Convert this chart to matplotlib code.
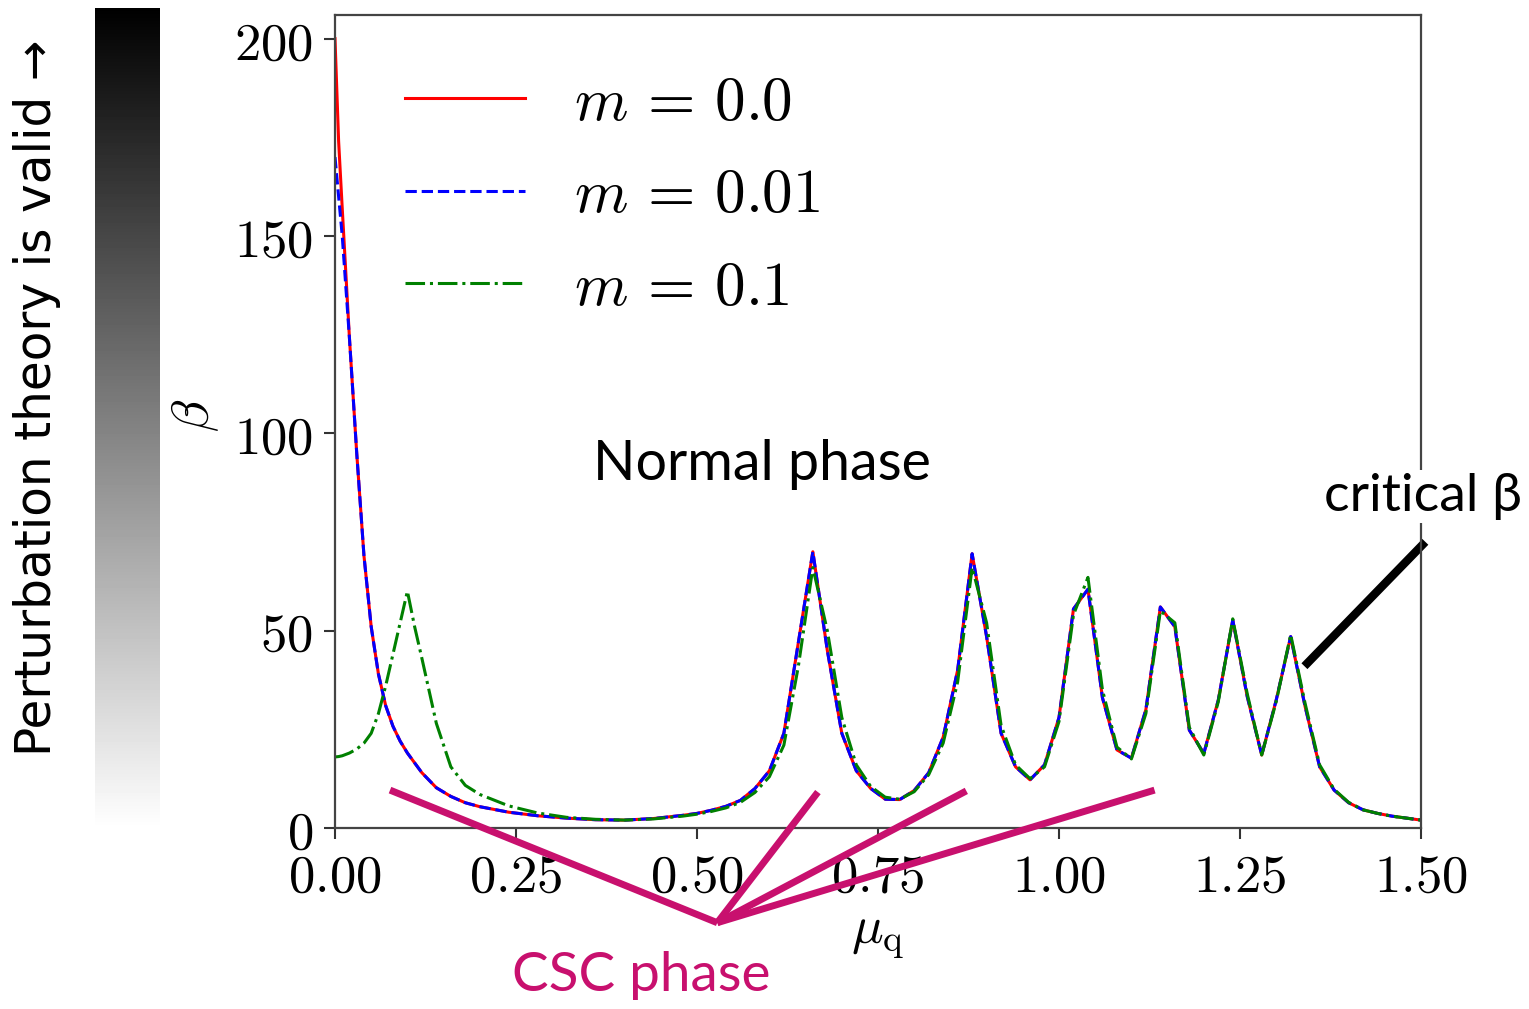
import numpy as np
import matplotlib
matplotlib.use("Agg")
import matplotlib.pyplot as plt

plt.rcParams['mathtext.fontset'] = 'cm'

# mu_q grid and beta values
mu_q = [0, 0.005, 0.01, 0.02, 0.03, 0.04, 0.05, 0.06, 0.07, 0.08, 0.09, 0.10,
        0.11, 0.12, 0.14, 0.16, 0.18, 0.20, 0.24, 0.28, 0.32, 0.36, 0.40, 0.44,
        0.48, 0.50, 0.52, 0.54, 0.56, 0.58, 0.60, 0.62, 0.64, 0.66, 0.68, 0.70,
        0.72, 0.74, 0.76, 0.78, 0.80, 0.82, 0.84, 0.86, 0.88, 0.90, 0.92, 0.94,
        0.96, 0.98, 1.00, 1.02, 1.04, 1.06, 1.08, 1.10, 1.12, 1.14, 1.16, 1.18,
        1.20, 1.22, 1.24, 1.26, 1.28, 1.30, 1.32, 1.34, 1.36, 1.38, 1.40, 1.42,
        1.44, 1.46, 1.48, 1.50]

beta_m0 = [200, 174, 157, 124, 95, 69, 51, 39, 31, 25.8, 22, 19,
           16.5, 14, 10.2, 8, 6.4, 5.4, 4, 3.1, 2.5, 2.1, 2.0, 2.4,
           3.2, 3.7, 4.5, 5.5, 7.0, 10, 14.5, 24, 47, 70, 45, 24,
           14.5, 10, 7.3, 7.2, 9.5, 14, 23, 40, 69.5, 48.5, 24, 15.5,
           12.2, 16, 28, 55.5, 60.5, 33, 19.8, 17.7, 30, 56, 51, 24.8,
           18.9, 32.4, 52.7, 33.3, 18.5, 32.4, 48.5, 30.7, 15.5, 9.6, 6.4, 4.6,
           3.7, 3.0, 2.5, 2.0]

beta_m001 = [170, 160, 150, 124, 95, 69, 51, 39, 31, 25.8, 22, 19,
             16.5, 14, 10.2, 8, 6.4, 5.4, 4, 3.1, 2.5, 2.1, 2.0, 2.4,
             3.2, 3.7, 4.5, 5.5, 7.0, 10, 14.5, 24, 47, 70, 45, 24,
             14.5, 10, 7.3, 7.2, 9.5, 14, 23, 40, 69.5, 48.5, 24, 15.5,
             12.2, 16, 28, 55.5, 60.5, 33, 19.8, 17.7, 30, 56, 51, 24.8,
             18.9, 32.4, 52.7, 33.3, 18.5, 32.4, 48.5, 30.7, 15.5, 9.6, 6.4, 4.6,
             3.7, 3.0, 2.5, 2.0]

beta_m01 = [18, 18.1, 18.3, 19, 20, 21.5, 24, 29, 36, 44, 52, 60,
            51, 43, 26.5, 15.5, 10.8, 8.5, 5.6, 3.8, 2.7, 2.2, 2.0, 2.3,
            3.0, 3.5, 4.2, 5.1, 6.5, 9, 13, 21, 41, 66, 50, 28,
            16, 10.5, 7.8, 7.3, 9.2, 13.5, 21.5, 37, 66, 52, 26, 16,
            12.5, 15.5, 27, 54, 63.5, 35, 20.5, 17.5, 29, 55, 52, 25.5,
            18.5, 32, 53, 34, 18.5, 32, 49, 31.5, 16, 9.8, 6.5, 4.6,
            3.7, 3.0, 2.5, 2.0]

labels = [r'$m\,=\,0.0$', r'$m\,=\,0.01$', r'$m\,=\,0.1$']
x_ticks = [0.00, 0.25, 0.50, 0.75, 1.00, 1.25, 1.50]
y_ticks = [0, 50, 100, 150, 200]

W, H = 1529, 1009
fig = plt.figure(figsize=(W / 100, H / 100), dpi=100)

def fx(px):
    return px / W

def fy(py):
    return 1 - py / H

ax = fig.add_axes([fx(335), fy(828), fx(1421) - fx(335), fy(15) - fy(828)])
ax.plot(mu_q, beta_m0, color='red', lw=2.2, ls='-', label=labels[0])
ax.plot(mu_q, beta_m001, color='blue', lw=2.2, ls='--', label=labels[1])
ax.plot(mu_q, beta_m01, color='green', lw=2.2, ls='-.', label=labels[2])

ax.set_xlim(0, 1.5)
ax.set_ylim(0, 206)
ax.set_xticks(x_ticks)
ax.set_xticklabels(['$%.2f$' % t for t in x_ticks])
ax.set_yticks(y_ticks)
ax.set_yticklabels(['$%d$' % t for t in y_ticks])
ax.tick_params(labelsize=38, length=8, width=1.5, pad=8, color='#333333')
for sp in ax.spines.values():
    sp.set_linewidth(1.6)
    sp.set_color('#444444')

fig.text(fx(195), fy(415), r'$\beta$', fontsize=38, rotation=90,
         ha='center', va='center')
fig.text(fx(878), fy(935), r'$\mu_{\rm q}$', fontsize=38,
         ha='center', va='center')

ax.legend(loc='upper left', bbox_to_anchor=(0.0424, 0.958), frameon=False,
          borderaxespad=0, fontsize=44, handlelength=1.95,
          handletextpad=0.8, labelspacing=0.55)

# annotations
ax.text(0.59, 92, 'Normal phase', fontsize=40, family='Lato',
        ha='center', va='center')
ax.text(1.503, 84, r'critical β', fontsize=38.5, family='Lato',
        ha='center', va='center', zorder=6,
        bbox=dict(facecolor='white', edgecolor='none', pad=2))
ax.plot([1.339, 1.506], [41, 72.5], color='black', lw=6, clip_on=False,
        solid_capstyle='butt')

csc = '#C8106E'
hub = (0.528, -24)
for end in [(0.076, 9.6), (0.667, 9.1), (0.872, 9.4), (1.132, 9.6)]:
    ax.plot([end[0], hub[0]], [end[1], hub[1]], color=csc, lw=5,
            clip_on=False, solid_capstyle='butt', zorder=5)
fig.text(fx(641), fy(975), 'CSC phase', fontsize=39.5, family='Lato',
         color=csc, ha='center', va='center')

# gradient bar
cax = fig.add_axes([fx(95), fy(828), fx(160) - fx(95), fy(8) - fy(828)])
cax.imshow(np.linspace(0, 1, 256).reshape(-1, 1), cmap='gray', aspect='auto')
cax.axis('off')

fig.text(fx(37), fy(398), 'Perturbation theory is valid →', fontsize=35,
         family=['Liberation Sans Narrow', 'DejaVu Sans'], rotation=90,
         ha='center', va='center')

fig.savefig('out.png', dpi=100)
